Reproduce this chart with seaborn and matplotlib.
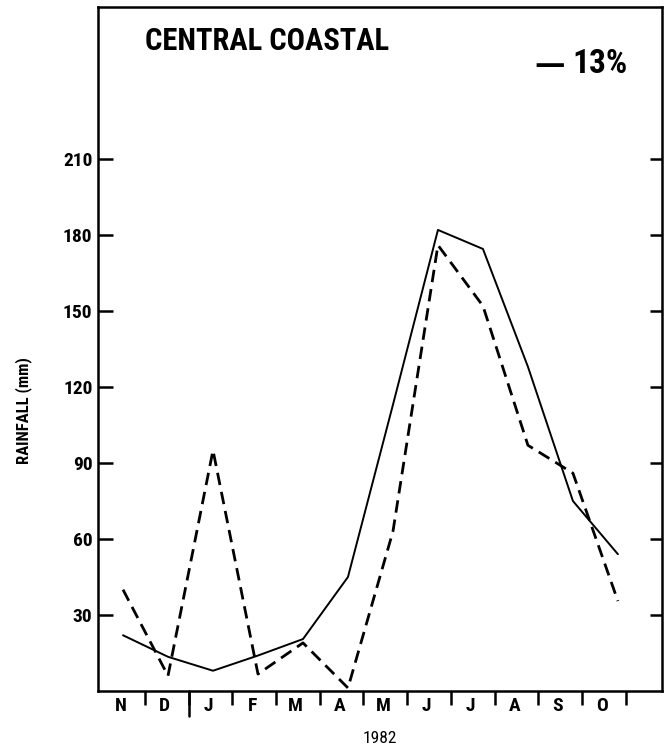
import matplotlib
matplotlib.use("Agg")
import matplotlib.pyplot as plt
from matplotlib import font_manager as fm
import seaborn as sns
import pandas as pd
import numpy as np

months = ["N", "D", "J", "F", "M", "A", "M", "J", "J", "A", "S", "O"]
rain_solid = [22, 13.5, 8, 14, 20.5, 45, 113, 182, 174.5, 128, 75, 54]
rain_dashed = [40, 6, 95, 6.7, 19, 1.2, 63, 176, 152, 97, 86, 35.5]
y_ticks = [30, 60, 90, 120, 150, 180, 210]
title = "CENTRAL COASTAL"
change_dash = "—"
change_label = "13%"
year_label = "1982"
y_label = "RAINFALL (mm)"

sns.set_style("white")

# pick a condensed font if one exists
ttf = fm.fontManager.ttflist
names = {f.name for f in ttf}
FAMILY = "DejaVu Sans"
for cand in ["Liberation Sans Narrow", "Roboto Condensed", "Open Sans Condensed",
             "Noto Sans Condensed", "DejaVu Sans Condensed"]:
    if cand in names:
        FAMILY = cand
        break

plt.rcParams["font.family"] = [FAMILY, "DejaVu Sans"]
for k in ["text.color", "axes.labelcolor", "xtick.color", "ytick.color"]:
    plt.rcParams[k] = "black"

df = pd.DataFrame({"idx": np.arange(len(months)),
                   "solid": rain_solid, "dashed": rain_dashed})

fig = plt.figure(figsize=(6.65, 7.47), dpi=100)
ax = fig.add_axes([98/665, 56/747, 564/665, 684/747])

sns.lineplot(data=df, x="idx", y="solid", ax=ax, color="black", linewidth=1.4)
sns.lineplot(data=df, x="idx", y="dashed", ax=ax, color="black", linewidth=2.0,
             linestyle=(0, (4.5, 2.5)))

ax.set_xlim(-0.556, 11.98)
ax.set_ylim(0, 270)

for s in ax.spines.values():
    s.set_linewidth(1.8)
    s.set_color("black")

ax.set_yticks(y_ticks)
ax.set_yticklabels([str(v) for v in y_ticks], fontsize=14, fontweight="bold")
ax.tick_params(axis="y", which="major", direction="in", length=11, width=1.8,
               pad=4, left=True)

# month labels / boundary ticks are drawn slightly compressed, as in the original
label_step = 0.971
label_pos = -0.044 + label_step * np.arange(len(months))
bound_pos = 0.49 + label_step * np.arange(len(months))
ax.set_xticks(label_pos)
ax.set_xticklabels(months, fontsize=14, fontweight="bold")
ax.set_xticks(bound_pos, minor=True)
ax.tick_params(axis="x", which="major", length=0, pad=4)
ax.tick_params(axis="x", which="minor", direction="out", length=10, width=1.8,
               bottom=True)
ax.set_xlabel("")
ax.set_ylabel(y_label, fontsize=12, fontweight="bold")
ax.yaxis.set_label_coords(-0.117, 0.41)

# year separator
ax.axvline(bound_pos[1], ymin=-0.037, ymax=0, color="black", linewidth=1.8,
           clip_on=False)
ax.text(0.5, -0.07, year_label, transform=ax.transAxes,
        ha="center", va="center", fontsize=12.5)

ax2 = ax.twinx()
ax2.set_ylim(ax.get_ylim())
ax2.set_yticks(y_ticks)
ax2.set_yticklabels([])
ax2.tick_params(axis="y", direction="in", length=9, width=1.8, right=True)
for s in ax2.spines.values():
    s.set_visible(False)

ax.text(0.0833, 0.937, title, transform=ax.transAxes, ha="left", va="baseline",
        fontsize=22, fontweight="bold")
ax.text(0.9397, 0.9035, change_label, transform=ax.transAxes, ha="right",
        va="baseline", fontsize=24, fontweight="bold")
ax.text(0.828, 0.9035, change_dash, transform=ax.transAxes, ha="right",
        va="baseline", fontsize=22, fontweight="bold", family="DejaVu Sans")

fig.savefig("out.png", dpi=100)
